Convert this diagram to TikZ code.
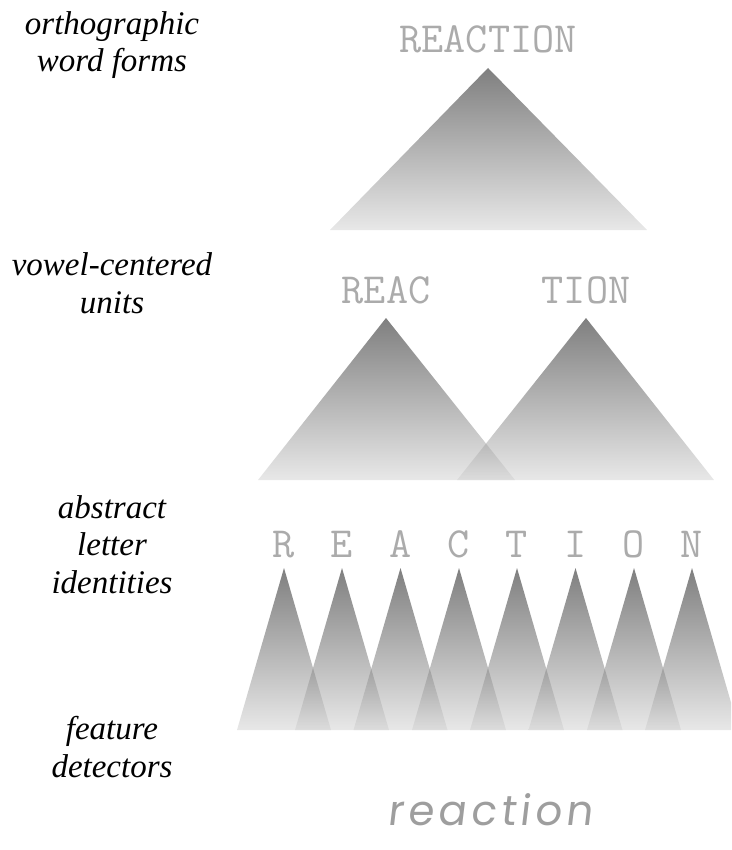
\documentclass[tikz,border=0pt]{standalone}
\usepackage{fontspec}
\setmainfont{Liberation Serif}
\newfontfamily\handfont[FakeSlant=0.12,LetterSpace=10]{Poppins}
\tikzset{
  ramp/.style={top color=black,bottom color=black!18,fill opacity=0.5,draw=none},
  level/.style={font=\itshape\fontsize{33}{37.5}\selectfont,align=center,anchor=base,inner sep=0pt},
  every picture/.style={line cap=round,line join=round}
}

\begin{document}
\begin{tikzpicture}[x=1pt,y=-1pt,
  unit/.style={text=black!33,font=\ttfamily\fontsize{43}{43}\selectfont,anchor=base,inner sep=0pt}]
  \useasboundingbox (0,0) rectangle (731,850);
  \clip (0,0) rectangle (731,850);
  % layer names
  \node[level] (wordlvl) at (112,72) {orthographic\\word forms};
  \node[level] (vowellvl) at (112,313) {vowel-centered\\units};
  \node[level] (letterlvl) at (112,593) {abstract\\letter\\identities};
  \node[level] (featlvl) at (112,777) {feature\\detectors};
  % word
  \node[unit] (word) at (488,53) {REACTION};
  \shade[ramp] (488,68) -- (647,230) -- (330,230) -- cycle;
  % vowel-centered units
  \node[unit] (reac) at (386,303) {REAC};
  \node[unit] (tion) at (586,303) {TION};
  \shade[ramp] (386,318) -- (515,480) -- (258,480) -- cycle;
  \shade[ramp] (586,318) -- (714,480) -- (457,480) -- cycle;
  % letters
  \node[unit] (r) at (284,557) {R};
  \node[unit] (e) at (342,557) {E};
  \node[unit] (a) at (400.5,557) {A};
  \node[unit] (c) at (459,557) {C};
  \node[unit] (t) at (517,557) {T};
  \node[unit] (i) at (575.5,557) {I};
  \node[unit] (o) at (634,557) {O};
  \node[unit] (n) at (692,557) {N};
  \shade[ramp] (284,568) -- (331,730) -- (237,730) -- cycle;
  \shade[ramp] (342,568) -- (389,730) -- (295,730) -- cycle;
  \shade[ramp] (400.5,568) -- (447.5,730) -- (353.5,730) -- cycle;
  \shade[ramp] (459,568) -- (506,730) -- (412,730) -- cycle;
  \shade[ramp] (517,568) -- (564,730) -- (470,730) -- cycle;
  \shade[ramp] (575.5,568) -- (622.5,730) -- (528.5,730) -- cycle;
  \shade[ramp] (634,568) -- (681,730) -- (587,730) -- cycle;
  \shade[ramp] (692,568) -- (739,730) -- (645,730) -- cycle;
  % input
  \node[anchor=base,inner sep=0pt,text=black!38,font=\handfont\fontsize{42}{42}\selectfont] (input) at (490,825) {reaction};
\end{tikzpicture}
\end{document}
